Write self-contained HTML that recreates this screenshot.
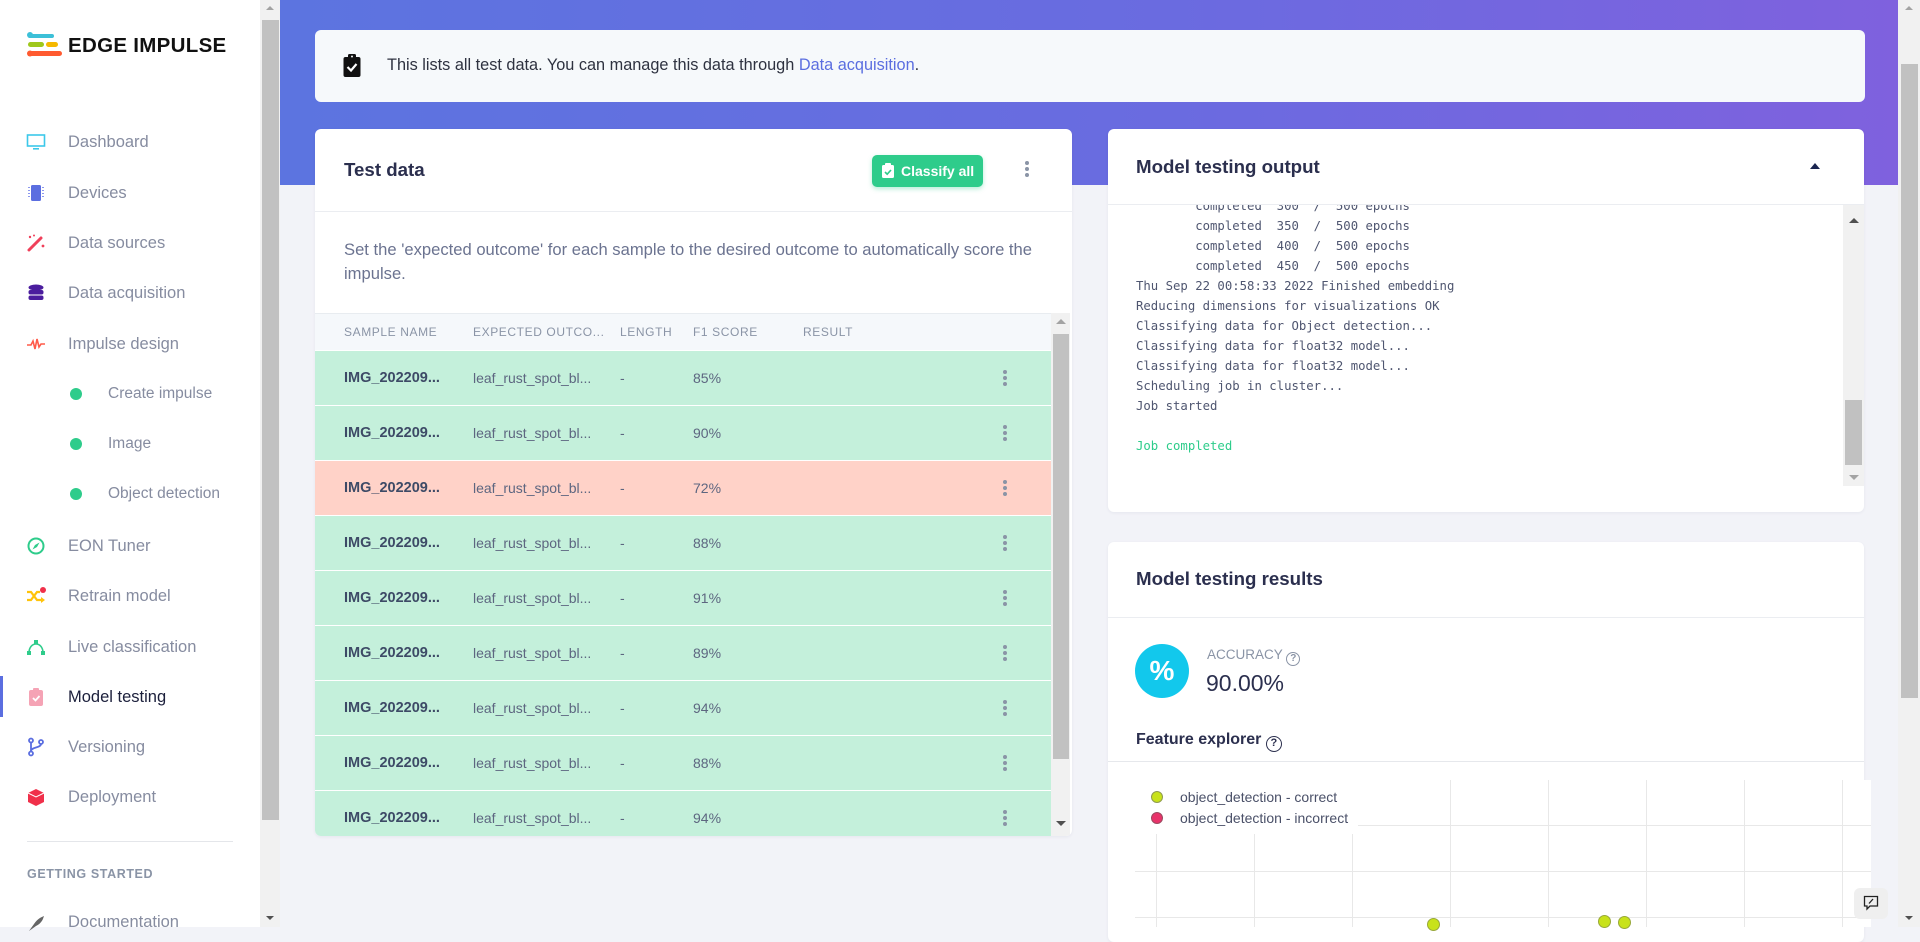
<!DOCTYPE html>
<html><head><meta charset="utf-8">
<style>
*{box-sizing:border-box;margin:0;padding:0}
html,body{width:1920px;height:927px;overflow:hidden;background:#f2f3f8;font-family:"Liberation Sans",Arial,sans-serif}
.abs{position:absolute}
.nav{position:absolute;left:68px;height:24px;line-height:24px;font-size:16.5px;color:#868ca0;white-space:nowrap}
.sub{position:absolute;left:108px;height:24px;line-height:24px;font-size:15.5px;color:#868ca0;white-space:nowrap}
.dot{position:absolute;left:70px;width:12px;height:12px;border-radius:50%;background:#2ecc8b}
.ico{position:absolute;left:26px;width:20px;height:20px}
.card{position:absolute;background:#fff;border-radius:6px;box-shadow:0 1px 3px rgba(40,40,80,.06);overflow:hidden}
.title{position:absolute;left:28px;height:28px;line-height:28px;font-size:18.7px;font-weight:bold;color:#2b2f4e;white-space:nowrap}
.sep{position:absolute;left:0;height:1px;background:#ebedf1}
.th{position:absolute;top:195px;height:16px;line-height:16px;font-size:12px;letter-spacing:.6px;color:#8a94a6;white-space:nowrap}
.row{position:absolute;left:0;width:736px;height:54px;background:#c4f0db}
.row.bad{background:#ffd2c8}
.row span{position:absolute;top:0;height:54px;line-height:54px;white-space:nowrap;font-size:14px;color:#5d6680}
.row span.n{left:29px;font-weight:bold;font-size:14.5px;color:#3d4a66}
.row span.e{left:158px}
.row span.l{left:305px}
.row span.f{left:378px}
.keb{position:absolute;width:4px}
.keb i{display:block;width:4px;height:4px;border-radius:50%;background:#8a94a6;margin-bottom:2px}
.log{position:absolute;left:28px;top:-9px;font-family:"DejaVu Sans Mono","Liberation Mono",monospace;font-size:12.3px;line-height:20px;color:#4f5670;white-space:pre}
.gv{position:absolute;width:1px;background:#e8e8e8}
.gh{position:absolute;height:1px;background:#e8e8e8}
.pt{position:absolute;width:13px;height:13px;border-radius:50%;background:#c8e21a;border:1px solid #98a83a}
</style></head><body>

<!-- Sidebar -->
<div class="abs" style="left:0;top:0;width:260px;height:927px;background:#fff"></div>
<svg class="abs" style="left:27px;top:32px" width="36" height="26" viewBox="0 0 36 26">
<rect x="1" y="2" width="26" height="4" rx="2" fill="#3cc0d8"/><circle cx="3" cy="3" r="3" fill="#3cc0d8"/>
<rect x="1" y="10" width="16" height="5" rx="2.5" fill="#9fc81c"/><rect x="19" y="10" width="12" height="5" rx="2.5" fill="#f5b800"/>
<rect x="1" y="19" width="34" height="5" rx="2.5" fill="#ff5a30"/><circle cx="3" cy="21.5" r="3" fill="#ff5a30"/>
</svg>
<div class="abs" style="left:68px;top:33px;height:26px;line-height:26px;font-size:20.5px;font-weight:bold;color:#111;letter-spacing:.3px;white-space:nowrap">EDGE IMPULSE</div>

<svg class="ico" style="top:132px" viewBox="0 0 20 20"><rect x="1.5" y="3" width="17" height="11" fill="none" stroke="#3cc8ea" stroke-width="1.6"/><rect x="7" y="16" width="6" height="1.6" fill="#3cc8ea"/></svg>
<div class="nav" style="top:130px">Dashboard</div>
<svg class="ico" style="top:183px" viewBox="0 0 20 20"><rect x="5" y="2" width="10" height="16" rx="1.5" fill="#5b6ee0"/><g fill="#8b97ee"><rect x="2" y="4" width="2" height="1"/><rect x="2" y="7" width="2" height="1"/><rect x="2" y="10" width="2" height="1"/><rect x="2" y="13" width="2" height="1"/><rect x="16" y="4" width="2" height="1"/><rect x="16" y="7" width="2" height="1"/><rect x="16" y="10" width="2" height="1"/><rect x="16" y="13" width="2" height="1"/></g></svg>
<div class="nav" style="top:181px">Devices</div>
<svg class="ico" style="top:233px" viewBox="0 0 20 20"><line x1="3" y1="17" x2="15" y2="5" stroke="#f0405a" stroke-width="3" stroke-linecap="round"/><g fill="#f0405a"><circle cx="4" cy="4" r="1.2"/><circle cx="8" cy="2.5" r="1"/><circle cx="17" cy="13" r="1.4"/></g></svg>
<div class="nav" style="top:231px">Data sources</div>
<svg class="ico" style="top:283px" viewBox="0 0 20 20"><g fill="#4b1d9e"><ellipse cx="10" cy="4.5" rx="7.5" ry="3"/><rect x="2.5" y="7" width="15" height="4.5" rx="2"/><rect x="2.5" y="12.5" width="15" height="4.5" rx="2"/></g></svg>
<div class="nav" style="top:281px">Data acquisition</div>
<svg class="ico" style="top:334px" viewBox="0 0 20 20"><polyline points="1,11 5,11 7,7 9,15 11,5 13,13 15,10 19,10" fill="none" stroke="#ff5b4a" stroke-width="1.6"/></svg>
<div class="nav" style="top:332px">Impulse design</div>
<div class="dot" style="top:388px"></div><div class="sub" style="top:382px">Create impulse</div>
<div class="dot" style="top:438px"></div><div class="sub" style="top:432px">Image</div>
<div class="dot" style="top:488px"></div><div class="sub" style="top:482px">Object detection</div>
<svg class="ico" style="top:536px" viewBox="0 0 20 20"><circle cx="10" cy="10" r="7.5" fill="none" stroke="#2ecc8b" stroke-width="2"/><polygon points="13.5,6.5 11,11 6.5,13.5 9,9" fill="#2ecc8b"/></svg>
<div class="nav" style="top:534px">EON Tuner</div>
<svg class="ico" style="top:586px" viewBox="0 0 20 20"><path d="M1 6 H5 L11 14 H16 M1 14 H5 L11 6 H14" fill="none" stroke="#ffc30b" stroke-width="2.2"/><polygon points="15,11 19,14 15,17" fill="#ffc30b"/><circle cx="17" cy="4" r="3" fill="#f0304a"/></svg>
<div class="nav" style="top:584px">Retrain model</div>
<svg class="ico" style="top:637px" viewBox="0 0 20 20"><path d="M3 16 C3 4 17 4 17 16" fill="none" stroke="#2ecc8b" stroke-width="1.6"/><rect x="1" y="14" width="4" height="4" fill="#2ecc8b"/><rect x="15" y="14" width="4" height="4" fill="#2ecc8b"/><rect x="8" y="3" width="4" height="4" fill="#2ecc8b"/></svg>
<div class="nav" style="top:635px">Live classification</div>
<div class="abs" style="left:0;top:676px;width:3px;height:41px;background:#5b6ee0"></div>
<svg class="ico" style="top:687px" viewBox="0 0 20 20"><rect x="3" y="3" width="14" height="16" rx="2" fill="#f5a3b5"/><rect x="7" y="1" width="6" height="4" rx="1" fill="#f5a3b5"/><polyline points="7,11 9.5,13.5 13.5,9" fill="none" stroke="#fff" stroke-width="1.8"/></svg>
<div class="nav" style="top:685px;color:#1b1f3b">Model testing</div>
<svg class="ico" style="top:737px" viewBox="0 0 20 20"><g fill="none" stroke="#5b6ee0" stroke-width="1.8"><circle cx="5" cy="3.5" r="2"/><circle cx="5" cy="16.5" r="2"/><circle cx="15" cy="5" r="2"/><line x1="5" y1="5.5" x2="5" y2="14.5"/><path d="M15 7 C15 11 5 10 5 14"/></g></svg>
<div class="nav" style="top:735px">Versioning</div>
<svg class="ico" style="top:787px" viewBox="0 0 20 20"><polygon points="10,2 18,6 18,15 10,19 2,15 2,6" fill="#f0304a"/><polyline points="2,6 10,10 18,6 M10,10 10,19" fill="none" stroke="#fff" stroke-width="1"/></svg>
<div class="nav" style="top:785px">Deployment</div>
<div class="abs" style="left:27px;top:841px;width:206px;height:1px;background:#e4e6ea"></div>
<div class="abs" style="left:27px;top:866px;height:16px;line-height:16px;font-size:12.5px;font-weight:bold;letter-spacing:.6px;color:#8a94a6;white-space:nowrap">GETTING STARTED</div>
<svg class="ico" style="top:914px" viewBox="0 0 20 20"><path d="M3 17 L8 10 C12 4 16 3 18 2 C17 5 16 9 10 12 Z" fill="#666"/></svg>
<div class="nav" style="top:910px">Documentation</div>

<div class="abs" style="left:260px;top:0;width:20px;height:927px;background:#f1f1f1"></div>
<div class="abs" style="left:262px;top:20px;width:17px;height:800px;background:#c1c1c1"></div>
<div class="abs" style="left:266px;top:6px;width:0;height:0;border-left:4px solid transparent;border-right:4px solid transparent;border-bottom:4px solid #a3a3a3"></div>
<div class="abs" style="left:266px;top:916px;width:0;height:0;border-left:4px solid transparent;border-right:4px solid transparent;border-top:4px solid #505050"></div>

<div class="abs" style="left:280px;top:0;width:1618px;height:185px;background:linear-gradient(90deg,#5c74e0 0%,#6a6be0 55%,#7f61de 100%)"></div>

<div class="abs" style="left:1898px;top:0;width:22px;height:927px;background:#f1f1f1"></div>
<div class="abs" style="left:1901px;top:64px;width:17px;height:634px;background:#c1c1c1"></div>
<div class="abs" style="left:1905px;top:6px;width:0;height:0;border-left:4px solid transparent;border-right:4px solid transparent;border-bottom:4px solid #a3a3a3"></div>
<div class="abs" style="left:1905px;top:916px;width:0;height:0;border-left:4px solid transparent;border-right:4px solid transparent;border-top:4px solid #505050"></div>

<div class="abs" style="left:315px;top:30px;width:1550px;height:72px;background:#f6f9fb;border-radius:6px"></div>
<svg class="abs" style="left:343px;top:54px" width="18" height="23" viewBox="0 0 18 23"><rect x="0.5" y="3" width="17" height="20" rx="2" fill="#111"/><rect x="5" y="0" width="8" height="5" rx="1.5" fill="#111"/><circle cx="9" cy="2.5" r="1" fill="#f6f9fb"/><polyline points="4.5,13 8,16.5 13.5,10" fill="none" stroke="#fff" stroke-width="2.2"/></svg>
<div class="abs" style="left:387px;top:54px;height:22px;line-height:22px;font-size:16.3px;color:#2e3240;white-space:nowrap">This lists all test data. You can manage this data through <span style="color:#5b6ee0">Data acquisition</span>.</div>

<div class="card" style="left:315px;top:129px;width:757px;height:707px">
  <div class="title" style="top:27px;left:29px">Test data</div>
  <div class="abs" style="left:557px;top:26px;width:111px;height:32px;background:#2ecc8b;border-radius:5px;box-shadow:0 2px 5px rgba(46,204,139,.35)"></div>
  <svg class="abs" style="left:567px;top:34px" width="12" height="15" viewBox="0 0 12 15"><rect x="0" y="2" width="12" height="13" rx="1.5" fill="#fff"/><rect x="3" y="0" width="6" height="3.5" rx="1" fill="#fff"/><polyline points="3,9 5.2,11.2 9,7" fill="none" stroke="#2ecc8b" stroke-width="1.6"/></svg>
  <div class="abs" style="left:586px;top:32px;height:20px;line-height:20px;font-size:14px;font-weight:bold;color:#fff;white-space:nowrap">Classify all</div>
  <div class="keb" style="left:710px;top:32px"><i></i><i></i><i></i></div>
  <div class="sep" style="top:82px;width:757px"></div>
  <div class="abs" style="left:29px;top:109px;line-height:24px;font-size:16.6px;color:#6b7390;white-space:nowrap">Set the 'expected outcome' for each sample to the desired outcome to automatically score the<br>impulse.</div>
  <div class="abs" style="left:0;top:184px;width:736px;height:37px;background:#f5f8fb;border-top:1px solid #e8ecf0"></div>
  <div class="th" style="left:29px">SAMPLE NAME</div>
  <div class="th" style="left:158px">EXPECTED OUTCO...</div>
  <div class="th" style="left:305px">LENGTH</div>
  <div class="th" style="left:378px">F1 SCORE</div>
  <div class="th" style="left:488px">RESULT</div>

  <div class="row" style="top:222px"><span class="n">IMG_202209...</span><span class="e">leaf_rust_spot_bl...</span><span class="l">-</span><span class="f">85%</span></div>
  <div class="row" style="top:277px"><span class="n">IMG_202209...</span><span class="e">leaf_rust_spot_bl...</span><span class="l">-</span><span class="f">90%</span></div>
  <div class="row bad" style="top:332px"><span class="n">IMG_202209...</span><span class="e">leaf_rust_spot_bl...</span><span class="l">-</span><span class="f">72%</span></div>
  <div class="row" style="top:387px"><span class="n">IMG_202209...</span><span class="e">leaf_rust_spot_bl...</span><span class="l">-</span><span class="f">88%</span></div>
  <div class="row" style="top:442px"><span class="n">IMG_202209...</span><span class="e">leaf_rust_spot_bl...</span><span class="l">-</span><span class="f">91%</span></div>
  <div class="row" style="top:497px"><span class="n">IMG_202209...</span><span class="e">leaf_rust_spot_bl...</span><span class="l">-</span><span class="f">89%</span></div>
  <div class="row" style="top:552px"><span class="n">IMG_202209...</span><span class="e">leaf_rust_spot_bl...</span><span class="l">-</span><span class="f">94%</span></div>
  <div class="row" style="top:607px"><span class="n">IMG_202209...</span><span class="e">leaf_rust_spot_bl...</span><span class="l">-</span><span class="f">88%</span></div>
  <div class="row" style="top:662px"><span class="n">IMG_202209...</span><span class="e">leaf_rust_spot_bl...</span><span class="l">-</span><span class="f">94%</span></div>

  <div class="keb" style="left:688px;top:241px"><i></i><i></i><i></i></div>
  <div class="keb" style="left:688px;top:296px"><i></i><i></i><i></i></div>
  <div class="keb" style="left:688px;top:351px"><i></i><i></i><i></i></div>
  <div class="keb" style="left:688px;top:406px"><i></i><i></i><i></i></div>
  <div class="keb" style="left:688px;top:461px"><i></i><i></i><i></i></div>
  <div class="keb" style="left:688px;top:516px"><i></i><i></i><i></i></div>
  <div class="keb" style="left:688px;top:571px"><i></i><i></i><i></i></div>
  <div class="keb" style="left:688px;top:626px"><i></i><i></i><i></i></div>
  <div class="keb" style="left:688px;top:681px"><i></i><i></i><i></i></div>

  <div class="abs" style="left:736px;top:184px;width:19px;height:523px;background:#f1f1f1"></div>
  <div class="abs" style="left:738px;top:205px;width:16px;height:425px;background:#c1c1c1"></div>
  <div class="abs" style="left:741px;top:190px;width:0;height:0;border-left:5px solid transparent;border-right:5px solid transparent;border-bottom:5px solid #a3a3a3"></div>
  <div class="abs" style="left:741px;top:692px;width:0;height:0;border-left:5px solid transparent;border-right:5px solid transparent;border-top:5px solid #505050"></div>
</div>

<div class="card" style="left:1108px;top:129px;width:756px;height:383px">
  <div class="title" style="top:24px">Model testing output</div>
  <div class="abs" style="left:702px;top:34px;width:0;height:0;border-left:5px solid transparent;border-right:5px solid transparent;border-bottom:6px solid #1a2550"></div>
  <div class="sep" style="top:75px;width:756px"></div>
  <div class="abs" style="left:0;top:76px;width:735px;height:281px;overflow:hidden">
<div class="log">        completed  300  /  500 epochs
        completed  350  /  500 epochs
        completed  400  /  500 epochs
        completed  450  /  500 epochs
Thu Sep 22 00:58:33 2022 Finished embedding
Reducing dimensions for visualizations OK
Classifying data for Object detection...
Classifying data for float32 model...
Classifying data for float32 model...
Scheduling job in cluster...
Job started

<span style="color:#2ecc8b">Job completed</span></div>
  </div>
  <div class="abs" style="left:735px;top:76px;width:21px;height:281px;background:#f1f1f1"></div>
  <div class="abs" style="left:737px;top:271px;width:17px;height:65px;background:#c1c1c1"></div>
  <div class="abs" style="left:741px;top:89px;width:0;height:0;border-left:5px solid transparent;border-right:5px solid transparent;border-bottom:5px solid #505050"></div>
  <div class="abs" style="left:741px;top:346px;width:0;height:0;border-left:5px solid transparent;border-right:5px solid transparent;border-top:5px solid #a3a3a3"></div>
</div>

<div class="card" style="left:1108px;top:542px;width:756px;height:400px">
  <div class="title" style="top:23px">Model testing results</div>
  <div class="sep" style="top:75px;width:756px"></div>
  <div class="abs" style="left:27px;top:102px;width:54px;height:54px;border-radius:50%;background:#12c8ec;color:#fff;font-weight:bold;font-size:28px;line-height:54px;text-align:center">%</div>
  <div class="abs" style="left:99px;top:104px;height:18px;line-height:18px;font-size:13.5px;color:#8a94a6;white-space:nowrap">ACCURACY <span style="display:inline-block;width:14px;height:14px;border:1.5px solid #8a94a6;border-radius:50%;font-size:10px;line-height:11px;text-align:center;vertical-align:-2px;font-weight:bold">?</span></div>
  <div class="abs" style="left:98px;top:127px;height:28px;line-height:28px;font-size:23px;color:#2b2f4e;white-space:nowrap">90.00%</div>
  <div class="abs" style="left:28px;top:186px;height:24px;line-height:24px;font-size:16px;font-weight:bold;color:#2b2f4e;white-space:nowrap">Feature explorer <span style="display:inline-block;width:16px;height:16px;border:1.8px solid #2b2f4e;border-radius:50%;font-size:11px;line-height:13px;text-align:center;vertical-align:-2px">?</span></div>
  <div class="sep" style="top:219px;width:756px;background:#e6e8ec"></div>
</div>

<div class="abs" style="left:1108px;top:780px;width:763px;height:147px;background:#fff"></div>
<div class="gv" style="left:1156px;top:834px;height:93px"></div>
<div class="gv" style="left:1254px;top:834px;height:93px"></div>
<div class="gv" style="left:1352px;top:834px;height:93px"></div>
<div class="gv" style="left:1450px;top:780px;height:147px"></div>
<div class="gv" style="left:1548px;top:780px;height:147px"></div>
<div class="gv" style="left:1646px;top:780px;height:147px"></div>
<div class="gv" style="left:1744px;top:780px;height:147px"></div>
<div class="gv" style="left:1842px;top:780px;height:147px"></div>
<div class="gh" style="left:1358px;top:825px;width:513px"></div>
<div class="gh" style="left:1135px;top:871px;width:736px"></div>
<div class="gh" style="left:1135px;top:917px;width:736px"></div>
<div class="abs" style="left:1151px;top:791px;width:12px;height:12px;border-radius:50%;background:#c8e21a;border:1px solid #8f9a50"></div>
<div class="abs" style="left:1151px;top:812px;width:12px;height:12px;border-radius:50%;background:#e8336a;border:1px solid #9a4a60"></div>
<div class="abs" style="left:1180px;top:788px;height:18px;line-height:18px;font-size:14px;color:#4a5068;white-space:nowrap">object_detection - correct</div>
<div class="abs" style="left:1180px;top:809px;height:18px;line-height:18px;font-size:14px;color:#4a5068;white-space:nowrap">object_detection - incorrect</div>
<div class="pt" style="left:1427px;top:918px"></div>
<div class="pt" style="left:1598px;top:915px"></div>
<div class="pt" style="left:1618px;top:916px"></div>

<div class="abs" style="left:1854px;top:888px;width:34px;height:31px;background:#efefef;border-radius:6px"></div>
<svg class="abs" style="left:1863px;top:895px" width="16" height="16" viewBox="0 0 16 16"><path d="M1.5 1.5 H14.5 V11 H7 L4 14 V11 H1.5 Z" fill="none" stroke="#222" stroke-width="1.3"/><line x1="6" y1="8.5" x2="10" y2="4" stroke="#222" stroke-width="1.3"/></svg>

</body></html>
